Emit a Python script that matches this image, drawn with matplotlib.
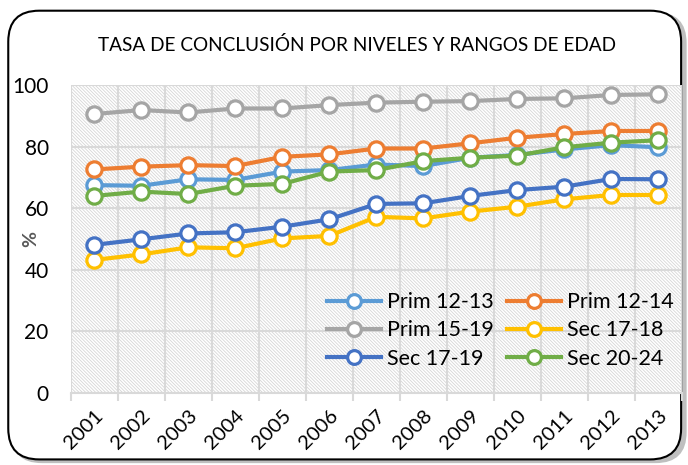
import matplotlib
matplotlib.use("Agg")
import matplotlib.pyplot as plt
from matplotlib.patches import FancyBboxPatch, Rectangle

plt.rcParams['font.family'] = ['Lato', 'DejaVu Sans']
plt.rcParams['hatch.linewidth'] = 0.6

years = ['2001', '2002', '2003', '2004', '2005', '2006', '2007',
         '2008', '2009', '2010', '2011', '2012', '2013']

prim_12_13 = [67.5, 67.3, 69.4, 69.2, 71.9, 72.4, 74.2, 73.7, 76.4, 77.3, 79.1, 80.5, 79.8]
prim_12_14 = [72.6, 73.5, 74.0, 73.7, 76.7, 77.5, 79.4, 79.4, 81.1, 82.9, 84.1, 85.1, 85.1]
prim_15_19 = [90.6, 91.9, 91.1, 92.4, 92.4, 93.5, 94.3, 94.6, 94.8, 95.5, 95.7, 96.8, 97.0]
sec_17_18 = [43.2, 45.0, 47.3, 47.0, 50.2, 51.0, 57.2, 56.7, 58.9, 60.5, 62.9, 64.3, 64.3]
sec_17_19 = [48.1, 49.9, 51.8, 52.2, 54.0, 56.4, 61.4, 61.6, 64.0, 65.9, 67.0, 69.5, 69.4]
sec_20_24 = [64.0, 65.4, 64.6, 67.3, 67.9, 71.9, 72.4, 75.3, 76.4, 77.1, 79.8, 81.3, 82.1]

series = [
    ('Prim 12-13', prim_12_13, '#5B9BD5'),
    ('Prim 12-14', prim_12_14, '#ED7D31'),
    ('Prim 15-19', prim_15_19, '#A5A5A5'),
    ('Sec 17-18', sec_17_18, '#FFC000'),
    ('Sec 17-19', sec_17_19, '#4472C4'),
    ('Sec 20-24', sec_20_24, '#70AD47'),
]

fig = plt.figure(figsize=(6.88, 4.65), dpi=100)

# rounded chart frame with a soft shadow
shadow = FancyBboxPatch((0.016, 0.004), 0.982, 0.97, boxstyle="round,pad=0,rounding_size=0.045",
                        transform=fig.transFigure, facecolor='#BFBFBF', edgecolor='none',
                        mutation_aspect=688 / 465, zorder=-2)
frame = FancyBboxPatch((0.012, 0.012), 0.978, 0.965, boxstyle="round,pad=0,rounding_size=0.045",
                       transform=fig.transFigure, facecolor='white', edgecolor='black',
                       linewidth=1.5, mutation_aspect=688 / 465, zorder=-1)
fig.patches.extend([shadow, frame])

ax = fig.add_axes([0.103, 0.155, 0.888, 0.662])
ax.set_zorder(1)
ax.set_facecolor('none')
ax.add_patch(Rectangle((0, 0), 1, 1, transform=ax.transAxes, facecolor='white',
                       edgecolor='#D6D6D6', hatch='\\' * 10, linewidth=0, zorder=0))

x = list(range(len(years)))
lines = {}
for name, vals, col in series:
    ln, = ax.plot(x, vals, color=col, linewidth=3, marker='o', markersize=11,
                  markerfacecolor='white', markeredgecolor=col, markeredgewidth=2.3,
                  label=name, zorder=3)
    lines[name] = ln

ax.set_xlim(-0.5, len(years) - 0.5)
ax.set_ylim(0, 100)
ax.set_yticks([0, 20, 40, 60, 80, 100])
ax.set_xticks(x)
ax.set_xticklabels(years, rotation=45, ha='right', rotation_mode='anchor', fontsize=14.5)
ax.set_xticks([i - 0.5 for i in range(len(years) + 1)], minor=True)
ax.tick_params(axis='x', which='major', length=0, pad=10)
ax.tick_params(axis='x', which='minor', length=6, width=1.5, color='#D9D9D9')
ax.tick_params(axis='y', length=0, labelsize=15, pad=16)
ax.grid(True, which='minor', axis='x', color='#D9D9D9', linewidth=1.5, zorder=1)
ax.grid(True, which='major', axis='y', color='#D9D9D9', linewidth=1.5, zorder=1)
ax.set_axisbelow(True)
for s in ['top', 'right', 'left']:
    ax.spines[s].set_visible(False)
ax.spines['bottom'].set_color('#D9D9D9')
ax.spines['bottom'].set_linewidth(1.5)

ax.set_ylabel('%', fontsize=14, color='#595959', fontweight='bold')
ax.yaxis.set_label_coords(-0.052, 0.5)

fig.text(0.519, 0.903, 'TASA DE CONCLUSIÓN POR NIVELES Y RANGOS DE EDAD',
         ha='center', va='center', fontsize=13.7)

order = ['Prim 12-13', 'Prim 15-19', 'Sec 17-19', 'Prim 12-14', 'Sec 17-18', 'Sec 20-24']
handles = [lines[n] for n in order]
ax.legend(handles, order, ncol=2, loc='upper left', bbox_to_anchor=(0.405, 0.355),
          frameon=False, fontsize=15.5, handlelength=2.5, handletextpad=0.3,
          columnspacing=0.6, labelspacing=0.38, borderaxespad=0, markerscale=0.9)

fig.savefig('out.png', dpi=100)
